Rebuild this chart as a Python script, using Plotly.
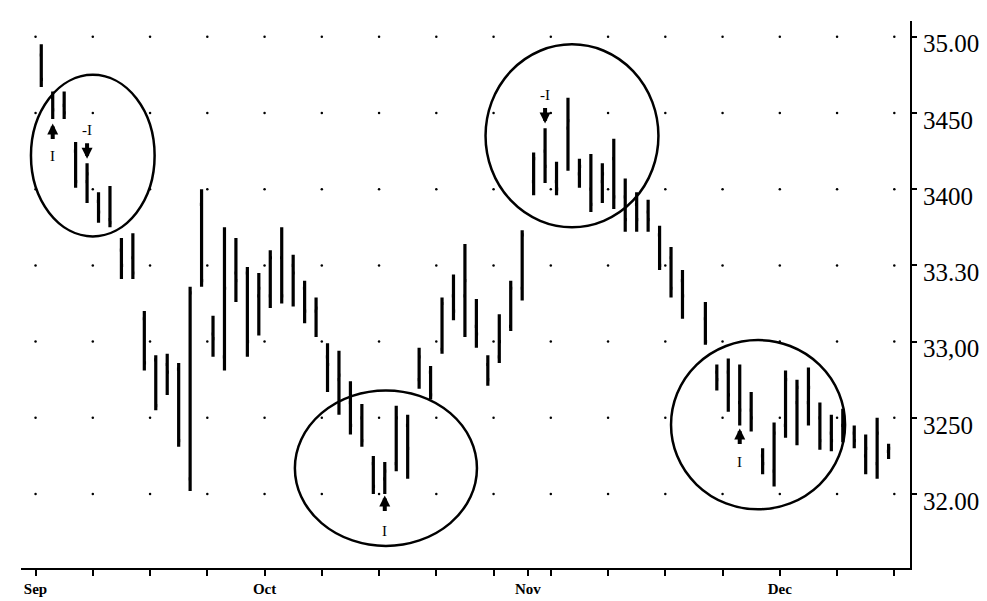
import plotly.graph_objects as go

# ---- data (trading-day index, OHLC) ----
day = list(range(0, 57)) + list(range(58, 75))
high = [34.95, 34.64, 34.64, 34.31, 34.17, 33.98, 34.02, 33.68, 33.71, 33.20,
        32.91, 32.92, 32.86, 33.36, 34.00, 33.17, 33.75, 33.68, 33.49, 33.45,
        33.60, 33.75, 33.57, 33.40, 33.29, 32.99, 32.94, 32.74, 32.59, 32.25,
        32.21, 32.58, 32.52, 32.96, 32.84, 33.29, 33.44, 33.64, 33.28, 32.91,
        33.18, 33.40, 33.73, 34.24, 34.40, 34.18, 34.60, 34.20, 34.23, 34.17,
        34.33, 34.07, 33.98, 33.93, 33.76, 33.62, 33.47,
        33.26, 32.85, 32.89, 32.85, 32.67, 32.30, 32.47, 32.81, 32.75, 32.83,
        32.60, 32.52, 32.56, 32.45, 32.39, 32.50, 32.33]
low = [34.67, 34.46, 34.46, 34.01, 33.91, 33.78, 33.75, 33.41, 33.41, 32.81,
       32.55, 32.65, 32.31, 32.02, 33.36, 32.90, 32.81, 33.26, 32.90, 33.04,
       33.22, 33.25, 33.23, 33.12, 33.03, 32.67, 32.52, 32.39, 32.31, 32.00,
       32.00, 32.15, 32.10, 32.69, 32.62, 32.92, 33.14, 33.03, 32.96, 32.71,
       32.86, 33.07, 33.27, 33.96, 34.04, 33.96, 34.12, 34.01, 33.85, 33.91,
       33.87, 33.72, 33.72, 33.72, 33.47, 33.29, 33.15,
       32.98, 32.68, 32.54, 32.45, 32.41, 32.13, 32.05, 32.37, 32.32, 32.45,
       32.29, 32.28, 32.34, 32.30, 32.13, 32.10, 32.23]
open_ = [34.88, 34.60, 34.55, 34.25, 34.05, 33.92, 33.80, 33.60, 33.55, 33.15,
         32.88, 32.85, 32.82, 32.10, 33.90, 33.05, 32.90, 33.45, 33.45, 33.30,
         33.30, 33.55, 33.50, 33.35, 33.20, 32.90, 32.75, 32.60, 32.50, 32.20,
         32.10, 32.20, 32.45, 32.75, 32.80, 32.95, 33.30, 33.30, 33.10, 32.85,
         32.90, 33.10, 33.35, 34.05, 34.25, 34.05, 34.40, 34.10, 34.00, 34.05,
         34.20, 33.95, 33.90, 33.85, 33.70, 33.55, 33.40,
         33.15, 32.80, 32.80, 32.60, 32.55, 32.25, 32.15, 32.45, 32.60, 32.60,
         32.50, 32.40, 32.45, 32.40, 32.25, 32.20, 32.28]
close = [34.72, 34.52, 34.50, 34.05, 34.10, 33.85, 33.78, 33.50, 33.45, 32.86,
         32.58, 32.80, 32.35, 33.32, 33.40, 33.02, 33.35, 33.40, 33.00, 33.35,
         33.55, 33.30, 33.45, 33.20, 33.22, 32.85, 32.78, 32.45, 32.35, 32.05,
         32.15, 32.50, 32.30, 32.90, 32.65, 33.25, 33.20, 33.40, 33.05, 32.75,
         33.00, 33.35, 33.70, 34.20, 34.15, 34.00, 34.45, 34.15, 33.90, 34.10,
         33.95, 33.80, 33.80, 33.80, 33.50, 33.35, 33.30,
         33.00, 32.75, 32.65, 32.55, 32.50, 32.20, 32.40, 32.75, 32.70, 32.70,
         32.35, 32.35, 32.40, 32.35, 32.30, 32.40, 32.30]

week_ticks = [-0.5 + 5 * k for k in range(16)]
month_pos = [-0.5, 19.5, 42.5, 64.5]
month_labels = ["Sep", "Oct", "Nov", "Dec"]
y_ticks = [32.0, 32.5, 33.0, 33.5, 34.0, 34.5, 35.0]
y_labels = ["32.00", "3250", "33,00", "33.30", "3400", "3450", "35.00"]

# circled regions: (x0, x1, y0, y1)
circles = [(-0.9, 9.9, 33.69, 34.75),
           (22.15, 38.05, 31.66, 32.68),
           (38.8, 53.9, 33.75, 34.95),
           (55.0, 70.2, 31.90, 33.01)]
# signal marks: (day, arrow tip value, direction, label, label value)
signals = [(1, 34.43, "up", "I", 34.22),
           (4, 34.20, "down", "-I", 34.385),
           (44, 34.43, "down", "-I", 34.62),
           (30, 31.99, "up", "I", 31.76),
           (61, 32.43, "up", "I", 32.21)]

fig = go.Figure()

# dotted grid at tick intersections
gx = [x for x in week_ticks for _ in y_ticks]
gy = [y for _ in week_ticks for y in y_ticks]
fig.add_trace(go.Scatter(x=gx, y=gy, mode="markers",
                         marker=dict(size=2.5, color="black"),
                         hoverinfo="skip", showlegend=False))

fig.add_trace(go.Ohlc(x=day, open=open_, high=high, low=low, close=close,
                      increasing=dict(line=dict(color="black", width=3.2)),
                      decreasing=dict(line=dict(color="black", width=3.2)),
                      tickwidth=0.15, showlegend=False))

for (x0, x1, y0, y1) in circles:
    fig.add_shape(type="circle", xref="x", yref="y", x0=x0, x1=x1, y0=y0, y1=y1,
                  line=dict(color="black", width=2.5))

for (d, tip, direction, lab, ly) in signals:
    fig.add_annotation(x=d, y=tip, xref="x", yref="y", text="", showarrow=True,
                       ax=0, ay=(17 if direction == "up" else -17),
                       arrowhead=2, arrowsize=0.55, arrowwidth=4, arrowcolor="black")
    fig.add_annotation(x=d, y=ly, xref="x", yref="y", text=lab, showarrow=False,
                       font=dict(family="Liberation Serif", size=15, color="black"))

xt = sorted(set(week_ticks + month_pos))
xtext = [month_labels[month_pos.index(v)] if v in month_pos else "" for v in xt]

fig.update_layout(
    width=987, height=601,
    margin=dict(l=13, r=85, t=13, b=33),
    paper_bgcolor="white", plot_bgcolor="white",
    xaxis=dict(range=[-1.77, 75.87], showgrid=False, zeroline=False,
               rangeslider=dict(visible=False),
               tickmode="array", tickvals=xt, ticktext=xtext,
               ticks="outside", ticklen=6, tickwidth=1.5, tickcolor="black",
               showline=True, linecolor="black", linewidth=2,
               tickfont=dict(family="Liberation Serif", size=15, color="black",
                             weight="bold")),
    yaxis=dict(range=[31.515, 35.103], side="right", showgrid=False, zeroline=False,
               tickmode="array", tickvals=y_ticks, ticktext=y_labels,
               ticks="outside", ticklen=5, tickwidth=2, tickcolor="black",
               showline=True, linecolor="black", linewidth=2,
               ticklabelshift=7, ticklabelstandoff=1,
               tickfont=dict(family="Liberation Serif", size=25, color="black")),
)

fig.write_html("out.html")
